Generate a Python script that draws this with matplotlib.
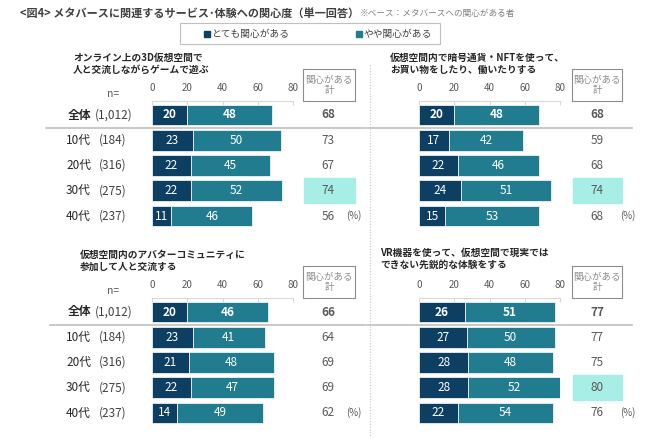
import matplotlib.pyplot as plt
from matplotlib.patches import Rectangle
from matplotlib.lines import Line2D

plt.rcParams['font.family'] = ['Noto Sans CJK JP', 'DejaVu Sans']

W, H = 650, 438

# データ
groups = ["全体", "10代", "20代", "30代", "40代"]
n_labels = ["(1,012)", "(184)", "(316)", "(275)", "(237)"]
series_names = ["とても関心がある", "やや関心がある"]

titles = [
    "オンライン上の3D仮想空間で\n人と交流しながらゲームで遊ぶ",
    "仮想空間内で暗号通貨・NFTを使って、\nお買い物をしたり、働いたりする",
    "仮想空間内のアバターコミュニティに\n参加して人と交流する",
    "VR機器を使って、仮想空間で現実では\nできない先鋭的な体験をする",
]
very = [
    [20, 23, 22, 22, 11],
    [20, 17, 22, 24, 15],
    [20, 23, 21, 22, 14],
    [26, 27, 28, 28, 22],
]
some = [
    [48, 50, 45, 52, 46],
    [48, 42, 46, 51, 53],
    [46, 41, 48, 47, 49],
    [51, 50, 48, 52, 54],
]
totals = [
    [68, 73, 67, 74, 56],
    [68, 59, 68, 74, 68],
    [66, 64, 69, 69, 62],
    [77, 77, 75, 80, 76],
]
highlight = [3, 3, None, 3]
ticks = [0, 20, 40, 60, 80]

c_dark = "#0d3f63"
c_teal = "#217c8f"
c_hl = "#a6eee6"
c_grey = "#595959"
c_line = "#bfbfbf"


def fx(x):
    return x / W


def fy(y):
    return 1 - y / H


fig = plt.figure(figsize=(6.5, 4.38), dpi=100)

# タイトル
fig.text(fx(20), fy(13), "<図4> メタバースに関連するサービス･体験への関心度（単一回答）",
         fontsize=8.0, fontweight="bold", color="#404040", va="center")
fig.text(fx(360), fy(13), "※ベース：メタバースへの関心がある者", fontsize=6.2,
         color="#7f7f7f", va="center")

# 凡例
fig.patches.append(Rectangle((fx(180), fy(44)), fx(260), 21 / H, transform=fig.transFigure,
                             fill=False, edgecolor="#bfbfbf", lw=0.8))
fig.patches.append(Rectangle((fx(204), fy(37)), fx(6), 6 / H, transform=fig.transFigure,
                             color=c_dark))
fig.text(fx(211), fy(34), series_names[0], fontsize=7, color="#404040", va="center")
fig.patches.append(Rectangle((fx(356), fy(37)), fx(6), 6 / H, transform=fig.transFigure,
                             color=c_teal))
fig.text(fx(363), fy(34), series_names[1], fontsize=7, color="#404040", va="center")

# 区切り点線
fig.lines.append(Line2D([fx(370), fx(370)], [fy(65), fy(438)], transform=fig.transFigure,
                        color="#c8c8c8", lw=0.8, ls=(0, (1, 1.5))))

panels = [
    # x0, x80, y_first_row, title x, title y, box x0, box x1, total x, pct x, line x0, line x1
    (152, 293, 115, 73, 64, 303, 355, 328, 354, 46, 365),
    (419, 560, 115, 390, 64, 572, 622, 597, 628, 367, 632),
    (152, 293, 312, 80, 261, 303, 355, 328, 354, 50, 365),
    (419, 560, 312, 380, 259, 572, 622, 597, 628, 367, 632),
]
step = 25.25

for k, (x0, x80, yr, tx, ty, bx0, bx1, totx, pctx, lx0, lx1) in enumerate(panels):
    top = yr - 0.55 * step
    bot = yr + 4.5 * step
    ax = fig.add_axes([fx(x0), fy(bot), (x80 - x0) / W, (bot - top) / H])
    ax.set_xlim(0, 80)
    ax.set_ylim(4.5, -0.55)
    rows = list(range(len(groups)))
    ax.barh(rows, very[k], height=0.82, color=c_dark, edgecolor="white", lw=0.5)
    ax.barh(rows, some[k], left=very[k], height=0.82, color=c_teal, edgecolor="white", lw=0.5)
    for i in rows:
        fw = "bold" if i == 0 else "normal"
        ax.text(very[k][i] / 2, i, str(very[k][i]), ha="center", va="center",
                color="white", fontsize=8.5, fontweight=fw)
        ax.text(very[k][i] + some[k][i] / 2, i, str(some[k][i]), ha="center", va="center",
                color="white", fontsize=8.5, fontweight=fw)
    for s in ["right", "bottom", "left"]:
        ax.spines[s].set_visible(False)
    ax.spines["top"].set_color("#d9d9d9")
    ax.xaxis.tick_top()
    ax.set_xticks(ticks)
    ax.tick_params(axis="x", direction="in", length=3, color="#d9d9d9", labelsize=7,
                   labelcolor=c_grey, pad=6)
    ax.set_yticks([])
    ax.patch.set_visible(False)

    fig.text(fx(tx), fy(ty), titles[k], fontsize=7, fontweight="bold", color="#262626",
             va="center", linespacing=1.25)

    # 関心がある計 ボックス
    fig.patches.append(Rectangle((fx(bx0), fy(top)), (bx1 - bx0) / W, 32 / H,
                                 transform=fig.transFigure, fill=False,
                                 edgecolor="#8c8c8c", lw=0.8))
    fig.text(fx((bx0 + bx1) / 2), fy(top - 16), "関心がある\n計", fontsize=6.8,
             color="#8c8c8c", ha="center", va="center", linespacing=1.1)

    for i in rows:
        y = yr + i * step
        if highlight[k] == i:
            fig.patches.append(Rectangle((fx(bx0 + 1), fy(y + 12.5)), (bx1 - bx0 - 1) / W,
                                         25 / H, transform=fig.transFigure, color=c_hl))
        fig.text(fx(totx), fy(y), str(totals[k][i]), fontsize=8.5, ha="center", va="center",
                 color=c_grey, fontweight="bold" if i == 0 else "normal")
    fig.text(fx(pctx), fy(yr + 4 * step), "(%)", fontsize=7, ha="center",
             va="center", color=c_grey)

    # 全体の下の線
    fig.lines.append(Line2D([fx(lx0), fx(lx1)], [fy(yr + 13), fy(yr + 13)],
                            transform=fig.transFigure, color=c_line, lw=1.2))

    # 行ラベル（左パネルのみ）
    if k in (0, 2):
        fig.text(fx(113), fy(top - 7), "n=", fontsize=7.5, ha="center", va="center",
                 color=c_grey)
        for i in rows:
            y = yr + i * step
            if i == 0:
                fig.text(fx(91), fy(y), groups[i], fontsize=8.5, fontweight="bold",
                         ha="right", va="center", color="#262626")
                fig.text(fx(95), fy(y), n_labels[i], fontsize=8.5, ha="left", va="center",
                         color="#404040")
            else:
                fig.text(fx(66), fy(y), groups[i], fontsize=8.5, ha="left", va="center",
                         color="#262626")
                fig.text(fx(99), fy(y), n_labels[i], fontsize=8.5, ha="left", va="center",
                         color="#404040")

fig.savefig("out.png", dpi=100)
